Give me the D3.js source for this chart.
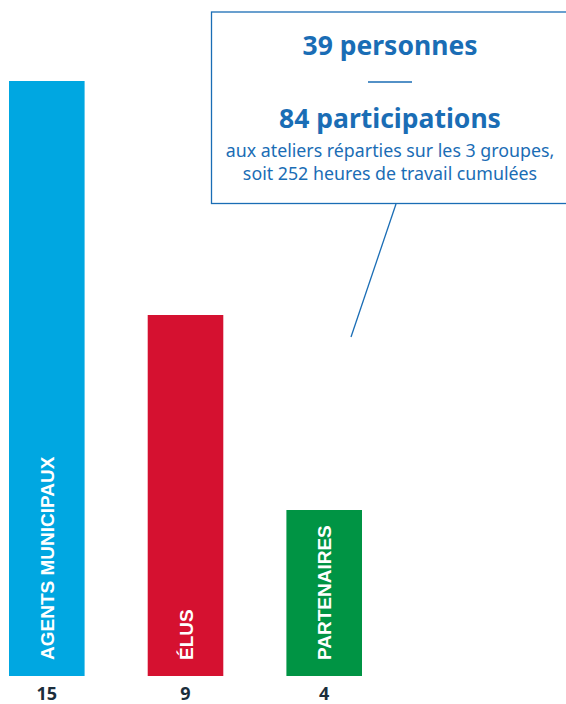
<!DOCTYPE html>
<html lang="fr">
<head>
  <meta charset="UTF-8">
  <title>Participants aux ateliers</title>
  <script src="https://d3js.org/d3.v7.min.js"></script>
  <style>
    body {
      margin: 0;
      background: #fff;
      overflow: hidden;
    }
  </style>
</head>
<body>
  <div id="chart"></div>

  <script>
    // données
    const groupes = ["AGENTS MUNICIPAUX", "ÉLUS", "PARTENAIRES"];
    const effectifs = [15, 9, 4];
    const couleurs = ["#00a7e1", "#d51130", "#009444"];
    const titres = ["39 personnes", "84 participations"];
    const sousTitre = ["aux ateliers réparties sur les 3 groupes,", "soit 252 heures de travail cumulées"];

    const W = 566, H = 704;
    const base = 676; // pied des barres

    const svg = d3.select("#chart")
                  .append("svg")
                  .attr("width", W)
                  .attr("height", H);

    const x = d3.scaleBand()
                .domain(groupes)
                .range([9, 362])
                .paddingInner(0.455)
                .paddingOuter(0);

    const y = d3.scaleLinear()
                .domain([0, 15])
                .range([666, 81]);

    const data = groupes.map((g, i) => ({groupe: g, n: effectifs[i], couleur: couleurs[i]}));

    svg.selectAll(".bar")
       .data(data)
       .enter()
       .append("rect")
       .attr("class", "bar")
       .attr("x", d => x(d.groupe))
       .attr("y", d => y(d.n))
       .attr("width", x.bandwidth())
       .attr("height", d => base - y(d.n))
       .attr("fill", d => d.couleur);

    // libellés verticaux dans les barres
    svg.selectAll(".lib")
       .data(data)
       .enter()
       .append("text")
       .attr("class", "lib")
       .attr("transform", d => `translate(${x(d.groupe) + x.bandwidth() / 2 + 7},${base - 16}) rotate(-90)`)
       .attr("fill", "#fff")
       .style("font-family", "'Liberation Sans', Arial, sans-serif")
       .style("font-weight", "bold")
       .style("font-size", "19px")
       .text(d => d.groupe);

    // valeurs sous les barres
    svg.selectAll(".val")
       .data(data)
       .enter()
       .append("text")
       .attr("class", "val")
       .attr("x", d => x(d.groupe) + x.bandwidth() / 2)
       .attr("y", 700)
       .attr("text-anchor", "middle")
       .attr("fill", "#1b2e3c")
       .style("font-family", "'Noto Sans', sans-serif")
       .style("font-weight", "bold")
       .style("font-size", "18px")
       .text(d => d.n);

    // encadré
    const bleu = "#1a6db5";
    svg.append("rect")
       .attr("x", 211.5)
       .attr("y", 12)
       .attr("width", 400)
       .attr("height", 191.5)
       .attr("fill", "none")
       .attr("stroke", bleu)
       .attr("stroke-width", 1.3);

    svg.append("line")
       .attr("x1", 396).attr("y1", 204)
       .attr("x2", 351).attr("y2", 337)
       .attr("stroke", bleu)
       .attr("stroke-width", 1.3);

    const cx = 390;
    svg.selectAll(".titre")
       .data(titres)
       .enter()
       .append("text")
       .attr("x", cx)
       .attr("y", (d, i) => i === 0 ? 55 : 128)
       .attr("text-anchor", "middle")
       .attr("fill", bleu)
       .style("font-family", "'Noto Sans', sans-serif")
       .style("font-weight", "bold")
       .style("font-size", "26.5px")
       .text(d => d);

    svg.append("line")
       .attr("x1", 368).attr("x2", 412)
       .attr("y1", 82).attr("y2", 82)
       .attr("stroke", bleu)
       .attr("stroke-width", 1.3);

    svg.selectAll(".sous")
       .data(sousTitre)
       .enter()
       .append("text")
       .attr("x", cx)
       .attr("y", (d, i) => 157 + i * 23)
       .attr("text-anchor", "middle")
       .attr("fill", bleu)
       .style("font-family", "'Noto Sans', sans-serif")
       .style("font-size", "17.8px")
       .text(d => d);
  </script>
</body>
</html>
